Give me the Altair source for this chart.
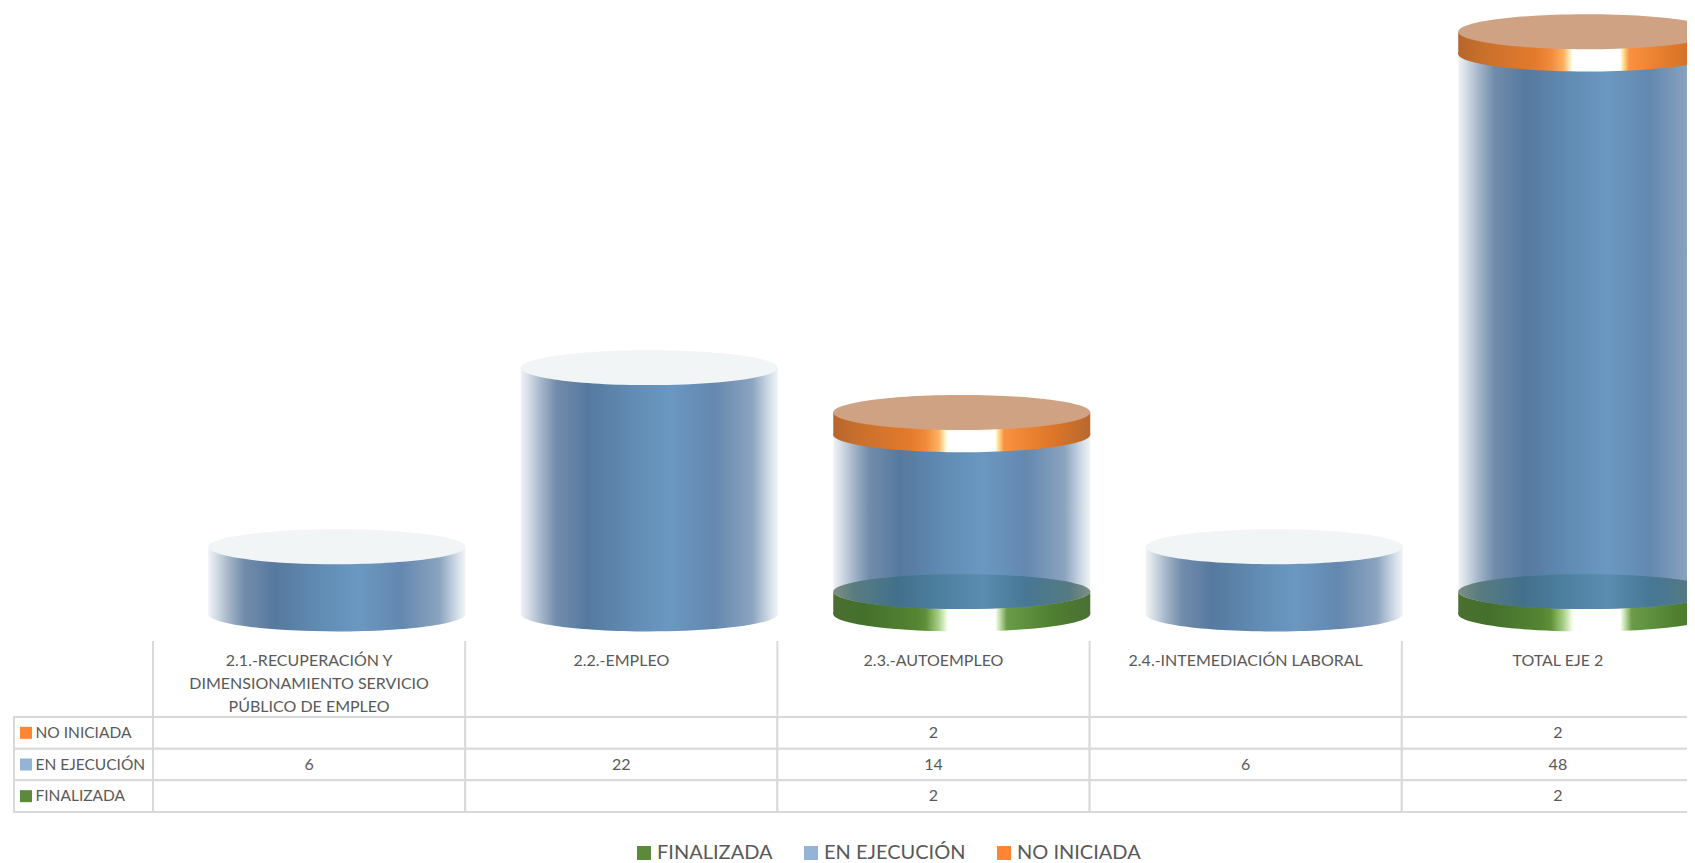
import altair as alt
import pandas as pd

CATEGORIES = ["2.1.-RECUPERACIÓN Y\nDIMENSIONAMIENTO SERVICIO\nPÚBLICO DE EMPLEO", "2.2.-EMPLEO",
              "2.3.-AUTOEMPLEO", "2.4.-INTEMEDIACIÓN LABORAL", "TOTAL EJE 2"]
NO_INICIADA = [None, None, 2, None, 2]
EN_EJECUCION = [6, 22, 14, 6, 48]
FINALIZADA = [None, None, 2, None, 2]
SERIES = ["FINALIZADA", "EN EJECUCIÓN", "NO INICIADA"]
ROWS = ["NO INICIADA", "EN EJECUCIÓN", "FINALIZADA"]
SWATCH = ["#5b8a3a", "#95b3d7", "#ff8533"]

FONT = "Lato"
TXT = "#595959"
GRID = "#d9d9d9"
BAR_W = 257

rows = []
for i, c in enumerate(CATEGORIES):
    f, b, n = FINALIZADA[i] or 0, EN_EJECUCION[i] or 0, NO_INICIADA[i] or 0
    rows.append(dict(cat=c, base_f=0, top_f=f, base_b=f, top_b=f + b, base_n=f + b, top_n=f + b + n,
                     has_f=f > 0, has_n=n > 0))
stack = pd.DataFrame(rows)

cells = []
for r, vals in zip(ROWS, [NO_INICIADA, EN_EJECUCION, FINALIZADA]):
    for c, v in zip(CATEGORIES, vals):
        cells.append(dict(cat=c, row=r, value="" if v is None else str(v)))
cells = pd.DataFrame(cells)


def grad(stops):
    return alt.Gradient(gradient="linear", x1=0, x2=1, y1=0, y2=0,
                        stops=[alt.GradientStop(offset=o, color=c) for o, c in stops])


G_BLUE = grad([(0, "#f0f3f6"), (0.03, "#d5dde6"), (0.08, "#a3b5c9"), (0.14, "#718cab"), (0.26, "#56799f"),
               (0.45, "#628db5"), (0.58, "#6a98c1"), (0.75, "#6488b0"), (0.9, "#8ba4bf"), (0.97, "#d5dee8"), (1, "#f0f3f6")])
G_ORANGE = grad([(0, "#b8652c"), (0.1, "#c9702c"), (0.3, "#e47a2c"), (0.36, "#f08a3c"), (0.41, "#ffb060"),
                 (0.435, "#fff0c0"), (0.445, "#ffffff"), (0.63, "#ffffff"), (0.64, "#ffe9a0"), (0.665, "#f9913f"),
                 (0.85, "#de7628"), (1, "#b8682f")])
G_GREEN = grad([(0, "#4a6f30"), (0.12, "#44702c"), (0.32, "#558432"), (0.36, "#5f9038"), (0.41, "#a8d088"),
                (0.44, "#eef8e0"), (0.45, "#ffffff"), (0.63, "#ffffff"), (0.645, "#cfe6b8"), (0.675, "#6a9c48"),
                (0.85, "#4f7f30"), (1, "#4a7032")])
G_CAP = grad([(0, "#7d8f84"), (0.08, "#597c80"), (0.25, "#42708c"), (0.45, "#4f82a3"), (0.58, "#5a8db1"),
              (0.75, "#477795"), (0.92, "#567a80"), (1, "#808f85")])
CAP_ORANGE = "#cea283"
CAP_LIGHT = "#f2f5f5"

R = 0.136
ELLIPSE = f"M -1 0 A 1 {R} 0 1 0 1 0 A 1 {R} 0 1 0 -1 0 Z"
LOWER = f"M -1 -0.012 L -1 0 A 1 {R} 0 0 0 1 0 L 1 -0.012 Z"

x_cyl = alt.Scale(type="band", domain=CATEGORIES, range=[172.5, 1735], paddingInner=0, paddingOuter=0)
y_cyl = alt.Scale(domain=[0, 52], range=[606, 23.7], nice=False, zero=False)
X = alt.X("cat:N", scale=x_cyl, axis=None)


def Y(f):
    return alt.Y(f"{f}:Q", scale=y_cyl, axis=None)


def side(df, base, top, g):
    return [
        alt.Chart(df).mark_point(shape=LOWER, size=BAR_W ** 2, filled=True, color=g, opacity=1, strokeWidth=0)
        .encode(x=X, y=Y(base)),
        alt.Chart(df).mark_bar(size=BAR_W, color=g).encode(x=X, y=Y(base), y2=f"{top}:Q"),
    ]


def cap(df, top, fill):
    return alt.Chart(df).mark_point(shape=ELLIPSE, size=BAR_W ** 2, filled=True, color=fill, opacity=1, strokeWidth=0) \
        .encode(x=X, y=Y(top))


sf = stack[stack.has_f]
sn = stack[stack.has_n]
sl = stack[~stack.has_n]
cyl = alt.layer(
    *side(sf, "base_f", "top_f", G_GREEN),
    *side(stack, "base_b", "top_b", G_BLUE),
    cap(sf, "top_f", G_CAP),
    cap(sl, "top_b", CAP_LIGHT),
    *side(sn, "base_n", "top_n", G_ORANGE),
    cap(sn, "top_n", CAP_ORANGE),
)

# table
x_tab = alt.Scale(type="band", domain=CATEGORIES, range=[145, 1706], paddingInner=0, paddingOuter=0)
y_row = alt.Scale(type="band", domain=ROWS, range=[709, 804], paddingInner=0, paddingOuter=0)
XT = alt.X("cat:N", scale=x_tab, axis=None)
YR = alt.Y("row:N", scale=y_row, axis=None)

head = pd.DataFrame({"cat": CATEGORIES})
tab_cells = alt.Chart(cells).mark_rect(fill="white", stroke=GRID, strokeWidth=2).encode(x=XT, y=YR)
tab_vals = alt.Chart(cells).mark_text(font=FONT, fontSize=16, color=TXT).encode(x=XT, y=YR, text="value:N")
tab_rules = alt.Chart(head).mark_rule(color=GRID, strokeWidth=2).encode(
    x=alt.X("cat:N", scale=x_tab, axis=None, bandPosition=0), y=alt.value(633), y2=alt.value(709))
tab_head = alt.Chart(head).mark_text(font=FONT, fontSize=16, color=TXT, baseline="top", lineBreak="\n", lineHeight=23.2).encode(
    x=XT, y=alt.value(645), text="cat:N")
table = alt.layer(tab_cells, tab_rules, tab_vals, tab_head)

labels = pd.DataFrame({"row": ROWS, "col": ["Serie"] * 3})
x_lab = alt.Scale(type="band", domain=["Serie"], range=[6, 145], paddingInner=0, paddingOuter=0)
lab_cells = alt.Chart(labels).mark_rect(fill="white", stroke=GRID, strokeWidth=2).encode(
    x=alt.X("col:N", scale=x_lab, axis=None), y=YR)
lab_text = alt.Chart(labels).mark_text(font=FONT, fontSize=15.5, color=TXT, align="left").encode(
    x=alt.value(27.5), y=YR, text="row:N")
lab_keys = alt.Chart(labels).mark_square(size=144, opacity=1, strokeWidth=0).encode(
    x=alt.value(18), y=YR,
    color=alt.Color("row:N", scale=alt.Scale(domain=SERIES, range=SWATCH),
                    legend=alt.Legend(title=None, orient="none", direction="horizontal", legendX=626, legendY=835,
                                      symbolType="square", symbolSize=196, symbolStrokeWidth=0, symbolOpacity=1,
                                      labelFont=FONT, labelFontSize=20, labelColor=TXT, columnPadding=28,
                                      labelOffset=3, columns=3)),
)
label_col = alt.layer(lab_cells, lab_text, lab_keys)

chart = alt.layer(cyl, table, label_col).resolve_scale(x="independent", y="independent", color="independent").properties(
    width=1679, height=855, padding=0,
    autosize=alt.AutoSizeParams(type="none", contains="padding"),
    background="white",
).configure_view(strokeWidth=0)

chart.save("out.html", embed_options={"renderer": "svg", "actions": False})
